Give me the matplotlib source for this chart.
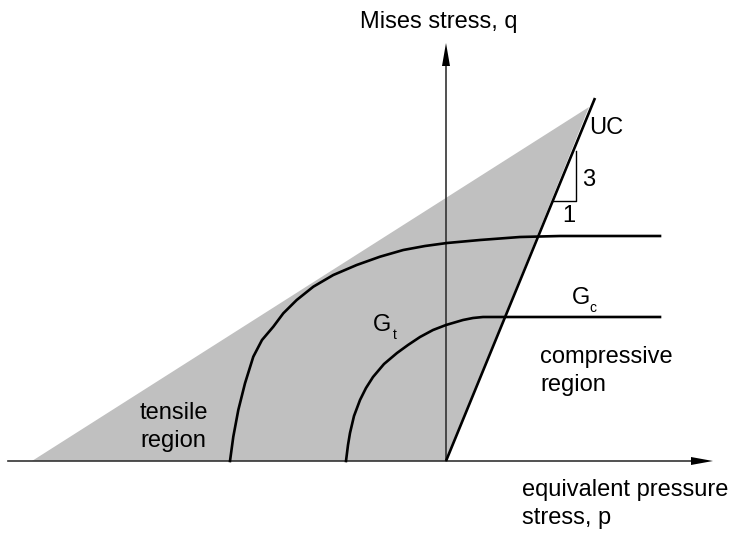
import matplotlib.pyplot as plt
from matplotlib.patches import Polygon

plt.rcParams['font.family'] = ['Liberation Sans', 'DejaVu Sans']

# schematic coordinates (p, q)
axis_p = [-43.8, 26.7]
axis_q = [0.0, 41.8]

# gray region: tensile corner, apex on UC, origin
region_p = [-41.4, 14.3, 0.0]
region_q = [0.0, 35.4, 0.0]

# UC line
uc_p = [0.0, 14.9]
uc_q = [0.0, 36.3]

# slope triangle 3:1
tri_p = [13.0, 13.0, 10.7]
tri_q = [31.0, 26.0, 26.0]

# outer curve
outer_p = [-21.6, -21.27, -20.77, -20.1, -19.27, -18.4, -17.27, -16.27,
           -14.93, -13.27, -11.27, -8.93, -6.6, -4.27, -2.1, 0.1, 3.4,
           7.4, 11.4, 21.4]
outer_q = [0.0, 2.43, 5.1, 7.77, 10.43, 12.1, 13.43, 14.77,
           16.1, 17.43, 18.6, 19.6, 20.43, 21.1, 21.5, 21.8, 22.1,
           22.4, 22.5, 22.5]

# inner curve
inner_p = [-10.0, -9.8, -9.6, -9.2, -8.6, -8.0, -7.3, -6.2, -4.9, -3.8,
           -2.6, -1.3, 0.0, 1.7, 2.7, 3.7, 21.4]
inner_q = [0.0, 1.6, 2.8, 4.5, 6.1, 7.3, 8.4, 9.7, 10.8, 11.6,
           12.4, 13.1, 13.6, 14.1, 14.3, 14.4, 14.4]

fig = plt.figure(figsize=(7.31, 5.37), dpi=100)
ax = fig.add_axes([0, 0, 1, 1])
ax.set_xlim(-44.6, 28.5)
ax.set_ylim(-7.6, 46.1)
ax.axis('off')

ax.add_patch(Polygon(list(zip(region_p, region_q)), closed=True,
                     facecolor='#c0c0c0', edgecolor='none', zorder=1))

axis_col = '#333333'
ax.plot([axis_p[0], axis_p[1] - 2.0], [0, 0], color=axis_col, lw=1.2, zorder=2)
ax.plot([0, 0], [axis_q[0], axis_q[1] - 2.2], color=axis_col, lw=1.2, zorder=2)
ax.add_patch(Polygon([(axis_p[1], 0), (axis_p[1] - 2.2, 0.4), (axis_p[1] - 2.2, -0.4)],
                     closed=True, facecolor='black', edgecolor='none', zorder=3))
ax.add_patch(Polygon([(0, axis_q[1]), (-0.4, axis_q[1] - 2.3), (0.4, axis_q[1] - 2.3)],
                     closed=True, facecolor='black', edgecolor='none', zorder=3))

ax.plot(uc_p, uc_q, color='black', lw=1.9, zorder=4, solid_capstyle='butt')
ax.plot(tri_p, tri_q, color='black', lw=1.0, zorder=4)
ax.plot(outer_p, outer_q, color='black', lw=1.9, zorder=4, solid_joinstyle='round')
ax.plot(inner_p, inner_q, color='black', lw=1.9, zorder=4, solid_joinstyle='round')

fs = 17
ax.text(-8.6, 43.9, 'Mises stress, q', fontsize=fs, va='center', ha='left')
ax.text(7.6, -4.3, 'equivalent pressure\nstress, p', fontsize=fs, va='center',
        ha='left', linespacing=1.35)
ax.text(14.3, 33.3, 'UC', fontsize=fs, va='center', ha='left')
ax.text(13.6, 28.1, '3', fontsize=fs, va='center', ha='left')
ax.text(11.6, 24.5, '1', fontsize=fs, va='center', ha='left')
ax.text(-30.6, 3.4, 'tensile\nregion', fontsize=fs, va='center', ha='left',
        linespacing=1.35)
ax.text(9.4, 9.0, 'compressive\nregion', fontsize=fs, va='center', ha='left',
        linespacing=1.35)
ax.text(-7.3, 13.6, 'G', fontsize=fs, va='center', ha='left')
ax.text(-5.3, 12.6, 't', fontsize=10, va='center', ha='left')
ax.text(12.6, 16.3, 'G', fontsize=fs, va='center', ha='left')
ax.text(14.3, 15.3, 'c', fontsize=10, va='center', ha='left')

fig.savefig('out.png', dpi=100)
